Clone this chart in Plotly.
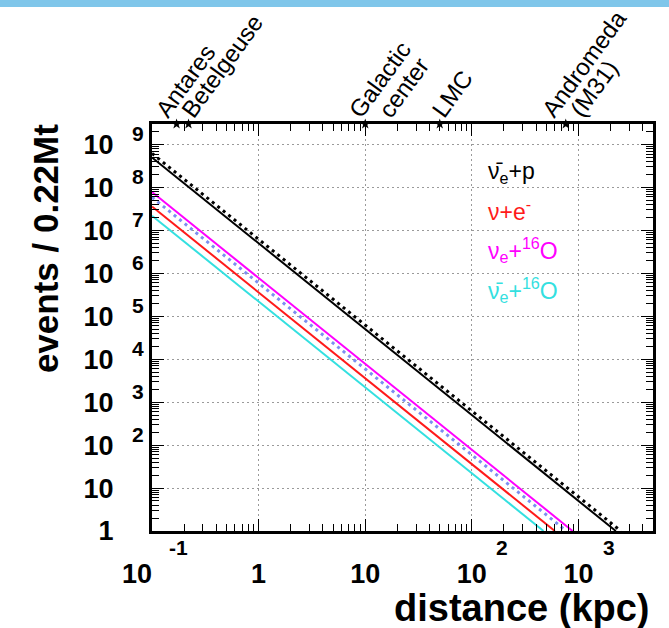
import numpy as np
import plotly.graph_objects as go

# ---- data (distance in kpc, events / 0.22 Mt) ----
dist_antinue_p = [0.1, 1, 10, 100, 1000, 2240]
events_antinue_p = [5.0e8, 5.0e6, 5.0e4, 500, 5.0, 1]

dist_antinue_p_alt = [0.1, 1, 10, 100, 1000, 2500]
events_antinue_p_alt = [6.2e8, 6.2e6, 6.2e4, 620, 6.2, 1]

dist_nue_O = [0.1, 1, 10, 100, 880]
events_nue_O = [7.8e7, 7.8e5, 7.8e3, 78, 1]

dist_nue_O_alt = [0.1, 1, 10, 100, 770]
events_nue_O_alt = [5.9e7, 5.9e5, 5.9e3, 59, 1]

dist_nu_e = [0.1, 1, 10, 100, 600]
events_nu_e = [3.6e7, 3.6e5, 3.6e3, 36, 1]

dist_antinue_O = [0.1, 1, 10, 100, 470]
events_antinue_O = [2.2e7, 2.2e5, 2.2e3, 22, 1]

source_names = ["Antares", "Betelgeuse", "Galactic center", "LMC", "Andromeda (M31)"]
source_dist = [0.17, 0.22, 10, 50, 760]

x_tick_vals = [0.1, 1, 10, 100, 1000]
x_tick_base = ["10\u00a0\u00a0\u00a0\u00a0", "1", "10", "10", "10"]
x_tick_exp = ["-1", "", "", "2", "3"]

y_tick_vals = [10.0 ** k for k in range(0, 10)]
y_tick_base = ["1"] + ["10"] * 9
y_tick_exp = ["", ""] + [str(k) for k in range(2, 10)]

legend_labels = ["\u03bd\u0304<sub>e</sub>+p", "\u03bd+e<sup>-</sup>",
                 "\u03bd<sub>e</sub>+<sup>16</sup>O", "\u03bd\u0304<sub>e</sub>+<sup>16</sup>O"]

x_range = [0.1, 5000]
y_range = [1, 3e9]

# ---- styles ----
FONT = "Liberation Sans, Arial, Helvetica, sans-serif"
C_BLACK = "black"
C_RED = "#ff1a1a"
C_MAG = "#ff00ff"
C_BLUE = "#7b8ff0"
C_CYAN = "#33e0e0"

fig = go.Figure()

def add_line(x, y, color, dash="solid", width=2):
    fig.add_trace(go.Scatter(x=x, y=y, mode="lines", showlegend=False, hoverinfo="skip",
                             line=dict(color=color, width=width, dash=dash)))

add_line(dist_antinue_O, events_antinue_O, C_CYAN)
add_line(dist_nu_e, events_nu_e, C_RED)
add_line(dist_nue_O_alt, events_nue_O_alt, C_BLUE, dash="3px,4px", width=3)
add_line(dist_nue_O, events_nue_O, C_MAG)
add_line(dist_antinue_p, events_antinue_p, C_BLACK)
add_line(dist_antinue_p_alt, events_antinue_p_alt, C_BLACK, dash="3px,4px", width=3)

# source markers on the top frame
fig.add_trace(go.Scatter(x=source_dist, y=[y_range[1]] * len(source_dist), mode="markers",
                         showlegend=False, cliponaxis=False, hoverinfo="skip",
                         marker=dict(symbol="star", size=8, color="black")))

def minor_vals(lo_exp, hi_exp):
    v = []
    for e in range(lo_exp, hi_exp + 1):
        for k in range(2, 10):
            v.append(k * 10.0 ** e)
    return v

axis_common = dict(
    type="log", showline=True, linewidth=3, linecolor="black", mirror="allticks",
    ticks="inside", ticklen=12, tickwidth=1, tickcolor="black",
    showgrid=True, gridcolor="#9a9a9a", griddash="2px,3px", gridwidth=1,
    zeroline=False,
    tickfont=dict(family=FONT, size=27, color="black", weight="bold"),
)

fig.update_xaxes(
    **axis_common,
    range=[np.log10(x_range[0]), np.log10(x_range[1])],
    tickmode="array", tickvals=x_tick_vals, ticktext=x_tick_base,
    ticklabelstandoff=17,
    minor=dict(tickmode="array", tickvals=minor_vals(-1, 3), ticks="inside",
               ticklen=7, tickwidth=1, tickcolor="black", showgrid=False),
)
fig.update_yaxes(
    **axis_common,
    range=[np.log10(y_range[0]), np.log10(y_range[1])],
    tickmode="array", tickvals=y_tick_vals, ticktext=y_tick_base,
    ticklabelstandoff=30,
    minor=dict(tickmode="array", tickvals=minor_vals(0, 9), ticks="inside",
               ticklen=7, tickwidth=1, tickcolor="black", showgrid=False),
)

ann = []
# exponents of the tick labels
x_exp_shift = {"-1": 26, "2": 30, "3": 31}
for v, e in zip(x_tick_vals, x_tick_exp):
    if e:
        ann.append(dict(x=np.log10(v), xref="x", y=0, yref="paper", text=e, showarrow=False,
                        xanchor="center", yanchor="middle", xshift=x_exp_shift[e], yshift=-16,
                        borderpad=0,
                        font=dict(family=FONT, size=21, color="black", weight="bold")))
for v, e in zip(y_tick_vals, y_tick_exp):
    if e:
        ann.append(dict(x=0, xref="paper", y=np.log10(v), yref="y", text=e, showarrow=False,
                        xanchor="center", yanchor="middle", xshift=-14, yshift=11,
                        font=dict(family=FONT, size=21, color="black", weight="bold")))

# axis titles
ann.append(dict(x=-0.2136, xref="paper", y=0.695, yref="paper", text="events / 0.22Mt",
                textangle=-90, showarrow=False, xanchor="center", yanchor="middle",
                font=dict(family=FONT, size=35, color="black", weight="bold")))
ann.append(dict(x=0.999, xref="paper", y=-0.19, yref="paper", text="distance (kpc)",
                showarrow=False, xanchor="right", yanchor="middle",
                font=dict(family=FONT, size=38, color="black", weight="bold")))

# source labels (rotated), one annotation per text line
label_lines = [("Antares", 0, -29), ("Betelgeuse", 1, -15), ("Galactic", 2, -25),
               ("center", 2, 5), ("LMC", 3, -16), ("Andromeda", 4, -32), ("(M31)", 4, -4)]
for txt, idx, xs in label_lines:
    ann.append(dict(x=np.log10(source_dist[idx]), xref="x", y=1, yref="paper", text=txt,
                    textangle=-54, showarrow=False, xanchor="left", yanchor="bottom",
                    xshift=xs, yshift=-1,
                    font=dict(family=FONT, size=24, color="black")))

# legend as coloured text
legend_colors = ["black", C_RED, C_MAG, C_CYAN]
legend_y = [0.882, 0.789, 0.690, 0.592]
for t, c, yy in zip(legend_labels, legend_colors, legend_y):
    ann.append(dict(x=0.666, xref="paper", y=yy, yref="paper", text=t, showarrow=False,
                    xanchor="left", yanchor="middle",
                    font=dict(family=FONT, size=23, color=c)))

fig.update_layout(
    width=669, height=628,
    margin=dict(l=152, r=16, t=124, b=97, pad=0),
    paper_bgcolor="white", plot_bgcolor="white",
    showlegend=False,
    hovermode=False,
    annotations=ann,
    shapes=[dict(type="rect", xref="paper", yref="paper", x0=-1, x1=2,
                 y0=(531 - 7) / 407, y1=1.4, fillcolor="#7fc6ea", line=dict(width=0),
                 layer="below")],
)

fig.write_html("out.html",
               config={"displayModeBar": False, "staticPlot": True},
               post_script="document.body.style.margin='0';document.body.style.overflow='hidden';")
